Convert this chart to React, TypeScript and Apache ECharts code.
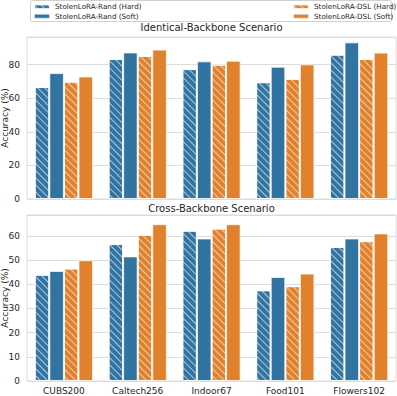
import React, { useEffect, useRef } from "react";
import * as echarts from "echarts";

const categories = ["CUBS200", "Caltech256", "Indoor67", "Food101", "Flowers102"];
const seriesNames = [
  "StolenLoRA-Rand (Hard)",
  "StolenLoRA-Rand (Soft)",
  "StolenLoRA-DSL (Hard)",
  "StolenLoRA-DSL (Soft)",
];
const yTitle = "Accuracy (%)";
const panelTitles = ["Identical-Backbone Scenario", "Cross-Backbone Scenario"];
// Identical-Backbone Scenario
const identRandHard = [66.7, 83.4, 77.4, 69.6, 86.0];
const identRandSoft = [75.0, 87.3, 82.0, 78.8, 93.3];
const identDslHard = [69.9, 85.2, 80.0, 71.6, 83.4];
const identDslSoft = [73.0, 89.0, 82.4, 80.2, 87.2];
// Cross-Backbone Scenario
const crossRandHard = [43.9, 56.6, 62.1, 37.5, 55.4];
const crossRandSoft = [45.5, 51.5, 58.9, 43.0, 58.9];
const crossDslHard = [46.5, 60.4, 63.0, 39.2, 57.8];
const crossDslSoft = [49.9, 64.8, 64.8, 44.4, 61.0];

const BLUE = "#3274a1";
const ORANGE = "#e1812c";
const FONT = "DejaVu Sans";
const TXT = "#262626";
const GRIDC = "#dcdcdc";

const hatch = {
  symbol: "rect",
  symbolSize: 1,
  color: "rgba(255,255,255,0.6)",
  dashArrayX: [1, 0],
  dashArrayY: [1, 3.2],
  rotation: Math.PI / 4,
};

export default function App() {
  const ref = useRef<HTMLDivElement>(null);
  useEffect(() => {
    if (!ref.current) return;
    const chart = echarts.init(ref.current, undefined, { renderer: "svg" });
    const mk = (name: string, data: number[], idx: number, color: string, hatched: boolean) => ({
      name,
      type: "bar",
      xAxisIndex: idx,
      yAxisIndex: idx,
      data,
      barGap: "0%",
      barCategoryGap: "21%",
      itemStyle: {
        color,
        borderColor: "rgba(255,255,255,0.75)",
        borderWidth: 1,
        decal: hatched ? hatch : undefined,
      },
    });
    const xAx = (idx: number, show: boolean) => ({
      type: "category",
      gridIndex: idx,
      data: categories,
      axisLine: { show: false },
      axisTick: { show: false },
      axisLabel: { show, fontSize: 9, color: TXT, fontFamily: FONT, margin: 5 },
    });
    const yAx = (idx: number, max: number, interval: number) => ({
      type: "value",
      gridIndex: idx,
      min: 0,
      max,
      interval,
      axisLine: { show: false },
      axisTick: { show: false },
      axisLabel: { fontSize: 9, color: TXT, fontFamily: FONT, margin: 7, showMaxLabel: false },
      splitLine: { lineStyle: { color: GRIDC, width: 1 } },
    });
    const legendBase = {
      orient: "vertical",
      itemWidth: 16,
      itemHeight: 5,
      itemGap: 0,
      padding: 0,
      textStyle: { fontSize: 7.2, color: TXT, fontFamily: FONT, lineHeight: 9.5 },
    };
    const txt = (text: string, x: number, y: number, size: number, rotation = 0) => ({
      type: "text",
      x,
      y,
      rotation,
      style: {
        text,
        fontSize: size,
        fontFamily: FONT,
        fill: TXT,
        align: "center",
        verticalAlign: "middle",
      },
    });
    chart.setOption({
      animation: false,
      backgroundColor: "#fff",
      grid: [
        { left: 27, right: 1, top: 37, height: 162, show: true, borderColor: GRIDC, borderWidth: 1 },
        { left: 27, right: 1, top: 215, height: 166, show: true, borderColor: GRIDC, borderWidth: 1 },
      ],
      xAxis: [xAx(0, false), xAx(1, true)],
      yAxis: [yAx(0, 96.5, 20), yAx(1, 68.6, 10)],
      legend: [
        { ...legendBase, left: 33, top: 2, data: [seriesNames[0], seriesNames[1]] },
        { ...legendBase, left: 292, top: 2, data: [seriesNames[2], seriesNames[3]] },
      ],
      graphic: [
        {
          type: "rect",
          shape: { x: 30.5, y: 0.5, width: 361, height: 21, r: 2 },
          style: { fill: "none", stroke: "#d0d0d0", lineWidth: 1 },
          silent: true,
        },
        txt(panelTitles[0], 211.5, 27, 10),
        txt(panelTitles[1], 211.5, 208, 10),
        txt(yTitle, 5, 118, 9, Math.PI / 2),
        txt(yTitle, 5, 298, 9, Math.PI / 2),
      ],
      series: [
        mk(seriesNames[0], identRandHard, 0, BLUE, true),
        mk(seriesNames[1], identRandSoft, 0, BLUE, false),
        mk(seriesNames[2], identDslHard, 0, ORANGE, true),
        mk(seriesNames[3], identDslSoft, 0, ORANGE, false),
        mk(seriesNames[0], crossRandHard, 1, BLUE, true),
        mk(seriesNames[1], crossRandSoft, 1, BLUE, false),
        mk(seriesNames[2], crossDslHard, 1, ORANGE, true),
        mk(seriesNames[3], crossDslSoft, 1, ORANGE, false),
      ],
    });
    return () => chart.dispose();
  }, []);
  return <div ref={ref} style={{ width: 397, height: 396, position: "absolute", left: 0, top: 0 }} />;
}
